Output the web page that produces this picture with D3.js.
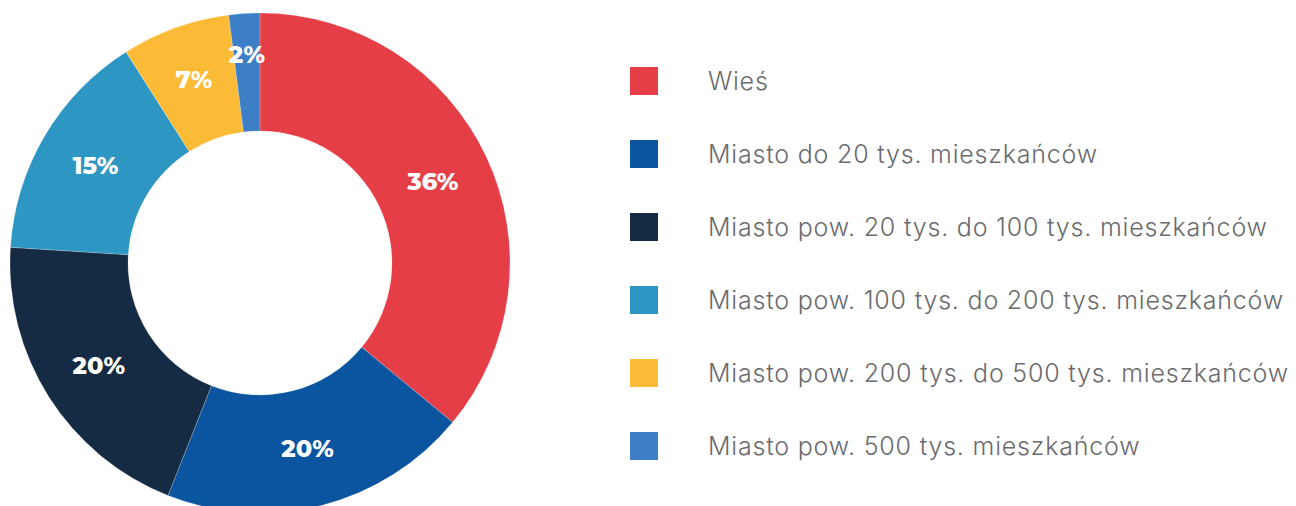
<!DOCTYPE html>
<html>
<head>
<meta charset="utf-8">
<script src="https://cdn.jsdelivr.net/npm/d3@7"></script>
<style>
  html, body { margin: 0; padding: 0; background: #fff; }
  svg { display: block; }
</style>
</head>
<body>
<div id="chart"></div>
<script>
// Data
const categories = [
    'Wieś',
    'Miasto do 20 tys. mieszkańców',
    'Miasto pow. 20 tys. do 100 tys. mieszkańców',
    'Miasto pow. 100 tys. do 200 tys. mieszkańców',
    'Miasto pow. 200 tys. do 500 tys. mieszkańców',
    'Miasto pow. 500 tys. mieszkańców'
];
const values = [36, 20, 20, 15, 7, 2];
const colors = ['#E63E46', '#0B55A0', '#152A43', '#2D96C3', '#FCBB36', '#3D7FC6'];

const width = 1296, height = 506;
const cx = 260, cy = 263;
const outerR = 250, innerR = 132;

const svg = d3.select('#chart')
    .append('svg')
    .attr('width', width)
    .attr('height', height)
    .attr('viewBox', `0 0 ${width} ${height}`);

const data = categories.map((c, i) => ({ name: c, value: values[i], color: colors[i] }));

const pie = d3.pie().sort(null).value(d => d.value);
const arc = d3.arc().innerRadius(innerR).outerRadius(outerR);

const g = svg.append('g').attr('transform', `translate(${cx},${cy})`);
const arcs = pie(data);

g.selectAll('path')
    .data(arcs)
    .join('path')
    .attr('d', arc)
    .attr('fill', d => d.data.color)
    .attr('stroke', '#ffffff')
    .attr('stroke-opacity', 0.35)
    .attr('stroke-width', 0.6);

// labels: centroid, small slices pushed outward a bit
g.selectAll('text')
    .data(arcs)
    .join('text')
    .attr('transform', d => {
        const share = d.data.value / d3.sum(values);
        const r = share < 0.05 ? outerR - 41 : (share < 0.1 ? outerR - 55 : (innerR + outerR) / 2);
        const a = (d.startAngle + d.endAngle) / 2;
        return `translate(${Math.sin(a) * r},${-Math.cos(a) * r})`;
    })
    .attr('text-anchor', 'middle')
    .attr('dy', '0.36em')
    .attr('fill', '#ffffff')
    .style('font-family', 'Montserrat, "Open Sans", sans-serif')
    .style('font-weight', 800)
    .style('font-size', '24px')
    .text(d => d.data.value + '%');

// Legend
const legendY = d3.scalePoint()
    .domain(categories)
    .range([81, 446]);

const legend = svg.append('g');
const items = legend.selectAll('g')
    .data(data)
    .join('g')
    .attr('transform', d => `translate(630,${legendY(d.name)})`);

items.append('rect')
    .attr('x', 0)
    .attr('y', -14)
    .attr('width', 28)
    .attr('height', 28)
    .attr('fill', d => d.color);

items.append('text')
    .attr('x', 78)
    .attr('dy', '0.36em')
    .attr('fill', '#6B6B6E')
    .style('font-family', 'Inter, "Open Sans", sans-serif')
    .style('font-weight', 300)
    .style('font-size', '25px')
    .style('letter-spacing', '0.8px')
    .text(d => d.name);
</script>
</body>
</html>
